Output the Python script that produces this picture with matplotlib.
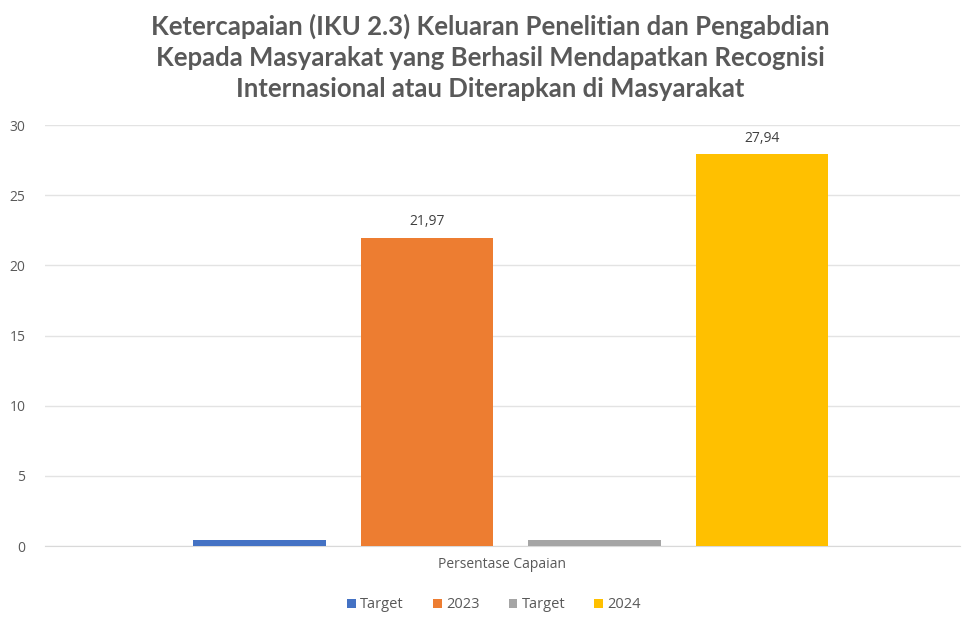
import matplotlib
matplotlib.use("Agg")
import matplotlib.pyplot as plt

series = ["Target", "2023", "Target", "2024"]
values = [0.45, 21.97, 0.45, 27.94]
labels = [None, "21,97", None, "27,94"]
colors = ["#4472C4", "#ED7D31", "#A5A5A5", "#FFC000"]
category = "Persentase Capaian"
yticks = [0, 5, 10, 15, 20, 25, 30]

fig = plt.figure(figsize=(9.64, 6.17), dpi=100)
ax = fig.add_axes([45/964, 1-546/617, 915/964, (546-125)/617])

spacing = 1.0
width = 0.79
handles = []
for i, (s, v, c, lab) in enumerate(zip(series, values, colors, labels)):
    x = (i - 1.5) * spacing
    b = ax.bar(x, v, width=width, color=c, label=s, zorder=3)
    handles.append(b)
    if lab:
        ax.annotate(lab, (x, v), xytext=(0, 6), textcoords="offset points",
                    ha="center", va="bottom", fontsize=10, color="#404040",
                    family="Open Sans")

ax.set_xlim(-2.78, 2.68)
ax.set_ylim(0, 30)
ax.set_yticks(yticks)
ax.set_yticklabels([str(t) for t in yticks], family="Open Sans", fontsize=10, color="#595959")
ax.tick_params(axis="y", length=0, pad=14)
ax.set_xticks([])
ax.grid(axis="y", color="#E3E3E3", linewidth=1, zorder=0)
for sp in ["top", "right", "left"]:
    ax.spines[sp].set_visible(False)
ax.spines["bottom"].set_color("#D9D9D9")

ax.set_xlabel(category, family="Open Sans", fontsize=10, color="#595959", labelpad=8)

fig.text(490/964, 1-57/617,
         "Ketercapaian (IKU 2.3) Keluaran Penelitian dan Pengabdian\n"
         "Kepada Masyarakat yang Berhasil Mendapatkan Recognisi\n"
         "Internasional atau Diterapkan di Masyarakat",
         ha="center", va="center", fontsize=18.5, fontweight="bold",
         color="#595959", family="Lato", linespacing=1.35)

fig.legend(handles=handles, labels=series, loc="center", bbox_to_anchor=(494/964, 1-605/617),
           ncol=4, frameon=False, prop={"family": "Open Sans", "size": 10.5},
           labelcolor="#595959", handlelength=0.6, handleheight=0.6,
           handletextpad=0.3, columnspacing=2.0)

fig.savefig("out.png", dpi=100, facecolor="white")
